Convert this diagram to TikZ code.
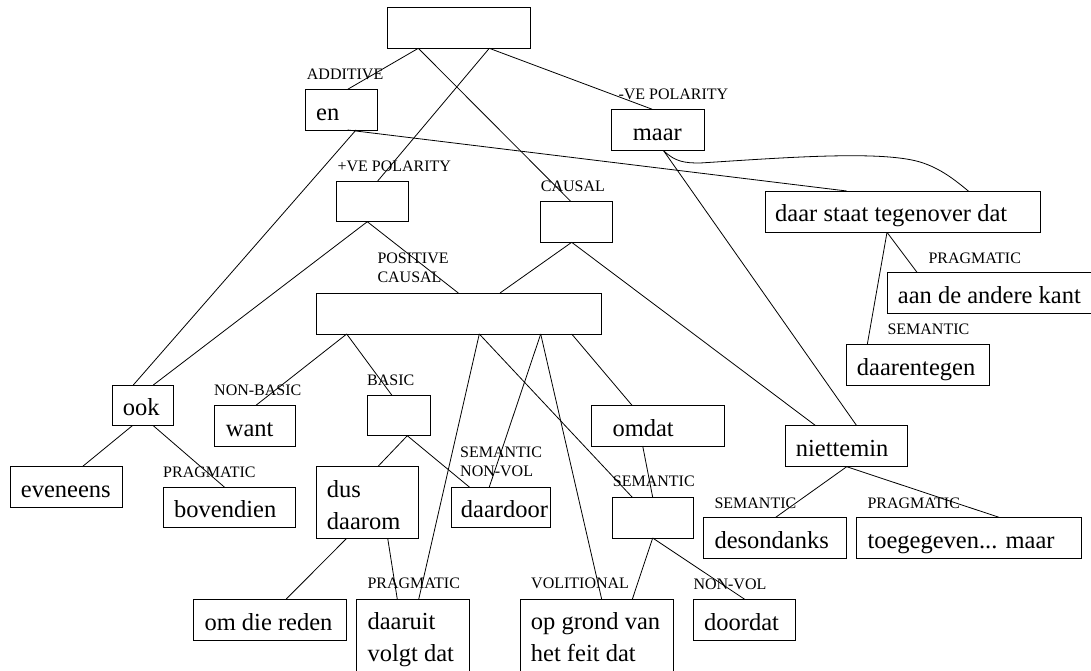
\documentclass[tikz,border=0pt]{standalone}
\usepackage{fontspec}
\setmainfont{Liberation Serif}
\begin{document}
\begin{tikzpicture}[x=1pt,y=-1pt,
  bx/.style={draw, line width=0.9pt, inner sep=0pt, outer sep=0pt, anchor=north west},
  tx/.style={font=\fontsize{24.5}{30}\selectfont, inner sep=0pt, anchor=base west},
  lb/.style={font=\fontsize{16}{19.4}\selectfont, inner sep=0pt, anchor=base west},
  cn/.style={line width=0.8pt}]
\useasboundingbox (0,0) rectangle (1091,670);
\fill[white] (0,0) rectangle (1091,670);
\clip (0,0) rectangle (1091,670);

% boxes
\node[bx, minimum width=143.4, minimum height=41]   (top)   at (387.3,7.3) {};
\node[bx, minimum width=71.6,  minimum height=40.7] (en)    at (305.7,89.3) {};
\node[bx, minimum width=92.3,  minimum height=41]   (maar)  at (611.7,109.3) {};
\node[bx, minimum width=71.3,  minimum height=40.7] (pve)   at (336.7,181) {};
\node[bx, minimum width=71.7,  minimum height=41]   (causal) at (540.3,201.3) {};
\node[bx, minimum width=275,   minimum height=41.3] (daar)  at (765,191) {};
\node[bx, minimum width=210,   minimum height=40.6] (aan)   at (887.3,272.7) {};
\node[bx, minimum width=143,   minimum height=40.7] (dtg)   at (846.3,344.3) {};
\node[bx, minimum width=285.7, minimum height=41]   (pc)    at (316,293) {};
\node[bx, minimum width=61.3,  minimum height=40.7] (ook)   at (112,385) {};
\node[bx, minimum width=81.7,  minimum height=40.7] (want)  at (214,405.3) {};
\node[bx, minimum width=63.7,  minimum height=40.7] (basic) at (367,395) {};
\node[bx, minimum width=132.3, minimum height=40.7] (omdat) at (591.7,405.3) {};
\node[bx, minimum width=122.4, minimum height=41]   (niet)  at (785.3,425.7) {};
\node[bx, minimum width=112.3, minimum height=40.6] (even)  at (10,466.7) {};
\node[bx, minimum width=132.7, minimum height=40.7] (bov)   at (163,487) {};
\node[bx, minimum width=102.3, minimum height=71.6] (dus)   at (316,466.7) {};
\node[bx, minimum width=99.7,  minimum height=40.7] (ddoor) at (451,487) {};
\node[bx, minimum width=81.3,  minimum height=40.7] (sem)   at (612,497.3) {};
\node[bx, minimum width=143,   minimum height=41]   (deso)  at (703.7,517.3) {};
\node[bx, minimum width=225,   minimum height=41]   (toeg)  at (856.3,517.3) {};
\node[bx, minimum width=153.4, minimum height=40.7] (omdie) at (193.3,599.3) {};
\node[bx, minimum width=112.3, minimum height=73]   (duit)  at (356.7,599.3) {};
\node[bx, minimum width=153,   minimum height=73]   (opgr)  at (520.3,599.3) {};
\node[bx, minimum width=102.4, minimum height=40.7] (doordat) at (693.3,599.3) {};

% box texts
\node[tx] (en-t)    at (316,120) {en};
\node[tx] (maar-t)  at (632.7,140) {maar};
\node[tx] (daar-t)  at (775,221.7) {daar staat tegenover dat};
\node[tx] (aan-t)   at (897.7,303.4) {aan de andere kant};
\node[tx] (dtg-t)   at (856.7,375) {daarentegen};
\node[tx] (ook-t)   at (122.7,415.7) {ook};
\node[tx] (want-t)  at (225.7,436) {want};
\node[tx] (omdat-t) at (612.3,436) {omdat};
\node[tx] (niet-t)  at (795.7,456.4) {niettemin};
\node[tx] (even-t)  at (20.7,497.4) {eveneens};
\node[tx] (bov-t)   at (174,517.7) {bovendien};
\node[tx] (dus-t1)  at (326.7,497.4) {dus};
\node[tx] (dus-t2)  at (326.7,529.5) {daarom};
\node[tx] (ddoor-t) at (460.7,517.7) {daardoor};
\node[tx] (deso-t)  at (714.3,548) {desondanks};
\node[tx] (toeg-t)  at (867.3,548) {toegegeven... maar};
\node[tx] (omdie-t) at (204.3,630) {om die reden};
\node[tx] (duit-t1) at (367.3,629.5) {daaruit};
\node[tx] (duit-t2) at (367.3,661) {volgt dat};
\node[tx] (opgr-t1) at (530.7,629.5) {op grond van};
\node[tx] (opgr-t2) at (530.7,661) {het feit dat};
\node[tx] (doordat-t) at (704,630) {doordat};

% small labels
\node[lb] (l-add)  at (306.7,79) {ADDITIVE};
\node[lb] (l-neg)  at (618.3,99.3) {-VE POLARITY};
\node[lb] (l-pos)  at (337.3,171) {+VE POLARITY};
\node[lb] (l-caus) at (540.7,191) {CAUSAL};
\node[lb] (l-pc1)  at (377.3,263.3) {POSITIVE};
\node[lb] (l-pc2)  at (377.3,282.7) {CAUSAL};
\node[lb] (l-prr)  at (928.3,263.3) {PRAGMATIC};
\node[lb] (l-semr) at (887.3,334.3) {SEMANTIC};
\node[lb] (l-nb)   at (214,395.3) {NON-BASIC};
\node[lb] (l-bas)  at (367,385) {BASIC};
\node[lb] (l-prl)  at (163,477.3) {PRAGMATIC};
\node[lb] (l-snv1) at (460,457.3) {SEMANTIC};
\node[lb] (l-snv2) at (460,476.7) {NON-VOL};
\node[lb] (l-semm) at (612.7,486.7) {SEMANTIC};
\node[lb] (l-semd) at (714.3,508.3) {SEMANTIC};
\node[lb] (l-prt)  at (867.3,508.3) {PRAGMATIC};
\node[lb] (l-prd)  at (367.3,588.3) {PRAGMATIC};
\node[lb] (l-vol)  at (531,588.3) {VOLITIONAL};
\node[lb] (l-nv)   at (693.3,589) {NON-VOL};

% connectors
\draw[cn] ([xshift=31]top.south west) -- ([xshift=42]en.north west);
\draw[cn] ([xshift=31]top.south west) -- ([xshift=30.4]causal.north west);
\draw[cn] ([xshift=102]top.south west) -- ([xshift=41]pve.north west);
\draw[cn] ([xshift=102]top.south west) -- ([xshift=40.6]maar.north west);
\draw[cn] ([xshift=50.3]en.south west) -- ([xshift=21.3]ook.north west);
\draw[cn] ([xshift=42]en.south west) -- ([xshift=81.7]daar.north west);
\draw[cn] ([xshift=51.6]maar.south west) -- ([xshift=71.4]niet.north west);
\draw[cn] ([xshift=51.6]maar.south west) .. controls (675,162) and (685,163) .. (700,163)
  .. controls (780,158) and (880,150) .. (920,162)
  .. controls (940,168) and (955,180) .. ([xshift=203.3]daar.north west);
\draw[cn] ([xshift=30.6]pve.south west) -- ([xshift=41.3]ook.north west);
\draw[cn] ([xshift=30.6]pve.south west) -- ([xshift=142.3]pc.north west);
\draw[cn] ([xshift=31.4]causal.south west) -- ([xshift=184]pc.north west);
\draw[cn] ([xshift=31.4]causal.south west) -- ([xshift=30.4]niet.north west);
\draw[cn] ([xshift=122]daar.south west) -- ([xshift=21]dtg.north west);
\draw[cn] ([xshift=122]daar.south west) -- ([xshift=30]aan.north west);
\draw[cn] ([xshift=20.3]ook.south west) -- ([xshift=72.3]even.north west);
\draw[cn] ([xshift=41.3]ook.south west) -- ([xshift=61.3]bov.north west);
\draw[cn] ([xshift=30.7]pc.south west) -- ([xshift=42]want.north west);
\draw[cn] ([xshift=30.7]pc.south west) -- ([xshift=24.7]basic.north west);
\draw[cn] ([xshift=163.3]pc.south west) -- ([xshift=62]duit.north west);
\draw[cn] ([xshift=163.3]pc.south west) -- ([xshift=20.3]sem.north west);
\draw[cn] ([xshift=224.7]pc.south west) -- ([xshift=38.3]ddoor.north west);
\draw[cn] ([xshift=224.7]pc.south west) -- ([xshift=81.4]opgr.north west);
\draw[cn] ([xshift=255.7]pc.south west) -- ([xshift=40.3]omdat.north west);
\draw[cn] ([xshift=40.3]basic.south west) -- ([xshift=61.7]dus.north west);
\draw[cn] ([xshift=40.3]basic.south west) -- ([xshift=18.3]ddoor.north west);
\draw[cn] ([xshift=30.7]dus.south west) -- ([xshift=92.7]omdie.north west);
\draw[cn] ([xshift=71.7]dus.south west) -- ([xshift=40.6]duit.north west);
\draw[cn] ([xshift=51]omdat.south west) -- ([xshift=40.7]sem.north west);
\draw[cn] ([xshift=40.7]sem.south west) -- ([xshift=112]opgr.north west);
\draw[cn] ([xshift=40.7]sem.south west) -- ([xshift=51.4]doordat.north west);
\draw[cn] ([xshift=61.4]niet.south west) -- ([xshift=72]deso.north west);
\draw[cn] ([xshift=61.4]niet.south west) -- ([xshift=142.7]toeg.north west);
\end{tikzpicture}
\end{document}
